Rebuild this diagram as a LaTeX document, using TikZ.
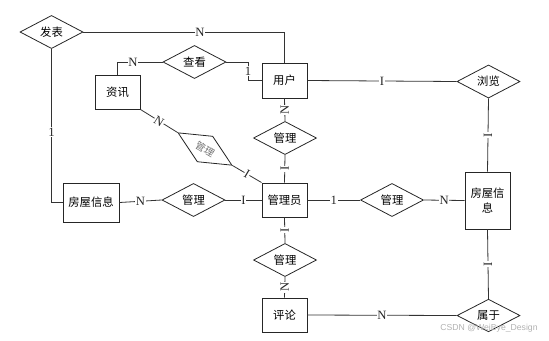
\documentclass[tikz,border=0pt]{standalone}
\usepackage{fontspec}
\setmainfont{Liberation Serif}
\newfontfamily\cjk{Noto Sans CJK SC}
\newfontfamily\wmfont{Liberation Sans}
\usetikzlibrary{shapes.geometric}
\begin{document}
\begin{tikzpicture}[x=0.75pt,y=-0.75pt,
  line width=0.6pt,
  conn/.style={draw=black!80},
  entity/.style={draw=black!85,line width=0.7pt,rectangle,inner sep=1pt,font=\cjk\fontsize{8.5}{11}\selectfont,minimum width=33.75pt,minimum height=25.5pt,align=center},
  rel/.style={draw=black!85,line width=0.6pt,diamond,inner sep=0pt,font=\cjk\fontsize{8.5}{11}\selectfont,minimum width=47.25pt,minimum height=22.5pt},
  card/.style={fill=white,inner sep=0.5pt,font=\fontsize{9.5}{10}\selectfont,text=black!85},
  vcard/.style={card,rotate=90}]
\useasboundingbox (0,0) rectangle (549,340);
% entities
\node[entity,minimum height=26.25pt] (yh) at (284.5,80.5) {用户};
\node[entity] (zx) at (117.5,92) {资讯};
\node[entity] (gly) at (284.5,200) {管理员};
\node[entity] (pl) at (284.5,315) {评论};
\node[entity,minimum width=42pt,minimum height=29.25pt] (fwL) at (91,202.5) {房屋信息};
\node[entity,minimum height=42.75pt,text width=30pt] (fwR) at (487.5,200.5) {房屋信\\息};
% relations
\node[rel] (fb) at (51.5,32) {发表};
\node[rel] (ck) at (194.5,62) {查看};
\node[rel,minimum height=21.75pt] (ll) at (488.5,81.5) {浏览};
\node[rel] (gl1) at (285,138) {管理};
\node[rel,rotate=-31,text=black!55,font=\cjk\fontsize{7.5}{9}\selectfont] (gl2) at (205,149) {管理};
\node[rel,minimum height=21.75pt] (gl3) at (193.5,200) {管理};
\node[rel,minimum height=21.75pt] (gl4) at (392,200) {管理};
\node[rel] (gl5) at (285,260) {管理};
\node[rel,minimum height=21.75pt] (sy) at (488.5,315.5) {属于};
% connectors
\draw[conn] (fb.east) -| node[card,pos=0.29] {N} (yh.north);
\draw[conn] (fb.south) |- node[card,pos=0.27] {1} (fwL.west);
\draw[conn] (ck.west) -| node[card,pos=0.33] {N} (zx.north);
\coordinate (ckc) at (248,80.5);
\draw[conn] (ck.east) -| node[card,pos=0.75] {1} (ckc) -- (yh.west);
\draw[conn] (yh.east) -- node[card] {I} (ll.west);
\draw[conn] (ll.south) -- node[vcard] {I} (fwR.north);
\draw[conn] (yh.south) -- node[vcard] {N} (gl1.north);
\draw[conn] (gl1.south) -- node[vcard] {I} (gly.north);
\draw[conn] (zx.south east) -- node[card,sloped] {N} (gl2.west);
\draw[conn] (gl2.east) -- node[card,sloped] {I} (gly.north west);
\draw[conn] (fwL.east) -- node[card] {N} (gl3.west);
\draw[conn] (gl3.east) -- node[card] {I} (gly.west);
\draw[conn] (gly.east) -- node[card] {1} (gl4.west);
\draw[conn] (gl4.east) -- node[card] {N} (fwR.west);
\draw[conn] (gly.south) -- node[vcard] {I} (gl5.north);
\draw[conn] (gl5.south) -- node[vcard] {N} (pl.north);
\draw[conn] (pl.east) -- node[card] {N} (sy.west);
\draw[conn] (sy.north) -- node[vcard] {I} (fwR.south);
% watermark
\node[font=\wmfont\fontsize{6.5}{8}\selectfont,text=black!30,inner sep=0pt] (wm) at (489,328) {CSDN @WeiBye\_Design};
\end{tikzpicture}
\end{document}
